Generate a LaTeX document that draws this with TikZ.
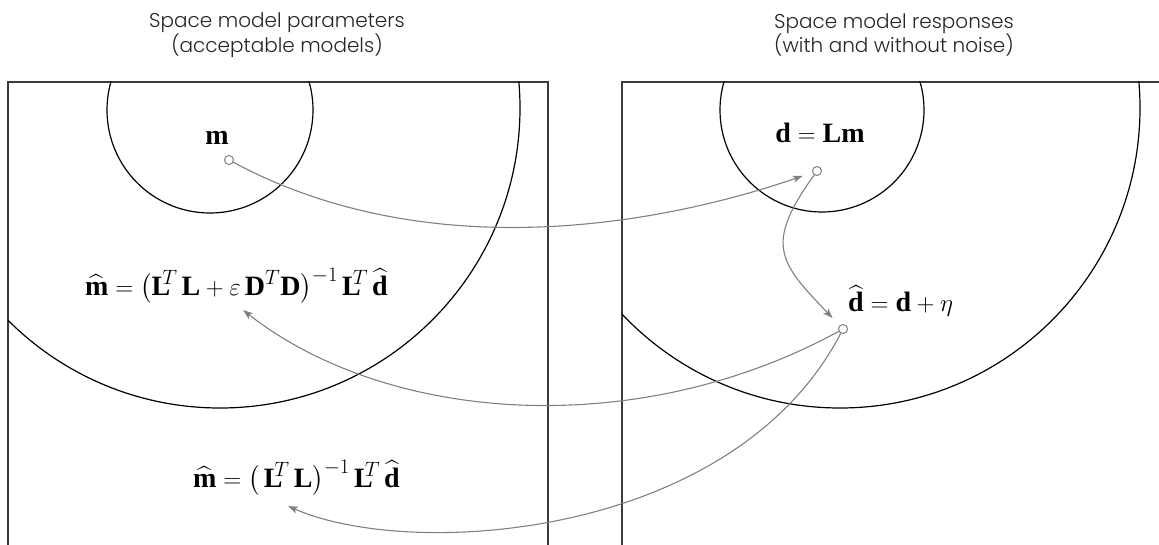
\documentclass[tikz,border=0pt]{standalone}
\usepackage{amsmath}
\usepackage{fontspec}
\setmainfont{Liberation Serif}
\newfontfamily\titlefont{Poppins Light}
\usetikzlibrary{arrows.meta}
\newcommand{\vbf}[1]{\textbf{#1}}
\definecolor{conn}{HTML}{808080}
\definecolor{boxc}{HTML}{3A3A3A}
\begin{document}
\begin{tikzpicture}[x=1pt,y=-1pt,
  boxline/.style={draw=boxc,line width=1.3pt},
  ring/.style={draw=black,line width=1.2pt},
  dot/.style={circle,draw=conn,fill=white,line width=1pt,inner sep=0pt,minimum size=9pt},
  link/.style={draw=conn,line width=1.1pt,-{Stealth[length=10pt,width=7pt,inset=2.5pt]}},
  ttl/.style={align=center,font=\titlefont\fontsize{20}{23}\selectfont,text=black!85},
  eq/.style={font=\fontsize{28}{30}\selectfont,inner sep=0pt}]
\useasboundingbox (0,0) rectangle (1159,545);
% boxes
\draw[boxline] (8,545) -- (8,82) -- (548,82) -- (548,545);
\draw[boxline] (622,545) -- (622,82) -- (1159,82);
% circles
\begin{scope}
  \clip (8,82) rectangle (548,545);
  \draw[ring] (210,110) circle[radius=103];
  \draw[ring] (220,108) circle[radius=300];
\end{scope}
\begin{scope}
  \clip (622,82) rectangle (1159,545);
  \draw[ring] (822,110) circle[radius=102];
  \draw[ring] (840,108) circle[radius=300];
\end{scope}
% titles
\node[ttl] (t1) at (277,35) {Space model parameters\\(acceptable models)};
\node[ttl] (t2) at (894,35) {Space model responses\\(with and without noise)};
% labels
\node[eq,anchor=base] (lm) at (217,145) {$\vbf{m}$};
\node[eq,anchor=base] (ld) at (820,143) {$\vbf{d} = \vbf{L}\vbf{m}$};
\node[eq,anchor=base west] (ldh) at (848,312) {$\widehat{\vbf{d}} = \vbf{d} + \eta$};
\node[eq,anchor=base west] (f1) at (85,295) {$\widehat{\vbf{m}} = \bigl(\vbf{L}^{\mkern-7mu T}\,\vbf{L} + \varepsilon\,\vbf{D}^{T}\vbf{D}\bigr)^{-1}\,\vbf{L}^{\mkern-7mu T}\,\widehat{\vbf{d}}$};
\node[eq,anchor=base west] (f2) at (193,487) {$\widehat{\vbf{m}} = \bigl(\,\vbf{L}^{\mkern-7mu T}\,\vbf{L}\bigr)^{-1}\,\vbf{L}^{\mkern-7mu T}\,\widehat{\vbf{d}}$};
% dots
\node[dot] (mdot) at (229,160) {};
\node[dot] (ddot) at (817,171) {};
\node[dot] (dhdot) at (843,329) {};
\coordinate (f1tip) at (243,310);
\coordinate (f2tip) at (288,506);
% connectors
\draw[link,shorten >=10pt] (mdot) .. controls (429,267) and (660,225) .. (ddot);
\draw[link,shorten >=10pt] (ddot) .. controls (764,245) and (779,262) .. (dhdot);
\draw[link] (dhdot) .. controls (640,440) and (390,425) .. (f1tip);
\draw[link] (dhdot) .. controls (733,540) and (410,560) .. (f2tip);
\end{tikzpicture}
\end{document}
